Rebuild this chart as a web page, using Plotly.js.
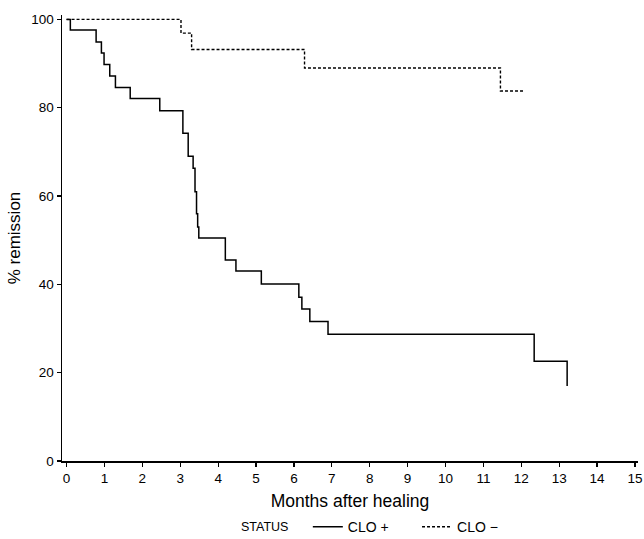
<!DOCTYPE html>
<html><head><meta charset="utf-8">
<script src="https://cdn.plot.ly/plotly-3.0.1.min.js"></script>
<style>body{margin:0;background:#fff}</style>
</head><body><div id="chart" style="width:644px;height:539px"></div>
<script>
// CLO + (solid): time of each drop (months) and remission (%) after it
const cloPlusMonths = [0, 0.10, 0.78, 0.92, 0.99, 1.14, 1.29, 1.68, 2.46, 3.07, 3.21, 3.34, 3.39, 3.43, 3.46, 3.49, 4.19, 4.47, 5.14, 6.13, 6.21, 6.42, 6.90, 12.34, 13.21];
const cloPlusRemission = [100, 97.6, 94.9, 92.4, 89.8, 87.2, 84.6, 82.1, 79.3, 74.2, 69.0, 66.3, 61.0, 56.0, 53.0, 50.5, 45.5, 43.0, 40.1, 37.1, 34.4, 31.6, 28.7, 22.6, 17.0];
// CLO - (dashed)
const cloMinusMonths = [0, 3.02, 3.30, 6.28, 11.45, 12.07];
const cloMinusRemission = [100, 96.9, 93.2, 89.0, 83.8, 83.8];

const xTicks = [0,1,2,3,4,5,6,7,8,9,10,11,12,13,14,15];
const yTicks = [0,20,40,60,80,100];
const seriesNames = ['CLO +', 'CLO \u2212'];
const legendLabel = 'STATUS';

const font = 'Liberation Sans, Arial, sans-serif';
const nb = n => '\u00a0'.repeat(n);
const traces = [
  {x: cloPlusMonths, y: cloPlusRemission, type: 'scatter', mode: 'lines', name: seriesNames[0] + nb(6),
   line: {shape: 'hv', color: '#000', width: 1.5}},
  {x: cloMinusMonths, y: cloMinusRemission, type: 'scatter', mode: 'lines', name: seriesNames[1],
   line: {shape: 'hv', color: '#000', width: 1.4, dash: '3px,2px'}}
];
const layout = {
  width: 644, height: 539,
  margin: {l: 62, r: 6, t: 15, b: 78},
  paper_bgcolor: '#fff', plot_bgcolor: '#fff',
  font: {family: font, color: '#000'},
  showlegend: true,
  legend: {orientation: 'h', xref: 'container', x: 0.478, xanchor: 'left', y: 0.022, yanchor: 'middle', yref: 'container',
    font: {size: 14, family: font}, itemwidth: 30, tracegroupgap: 0},
  annotations: [{text: legendLabel, xref: 'paper', yref: 'paper', x: 0.351, y: -0.148,
    xanchor: 'center', yanchor: 'middle', showarrow: false, font: {size: 12.5, family: font, color: '#000'}}],
  xaxis: {range: [-0.12, 15.08], tickvals: xTicks, ticktext: xTicks.map(String),
    ticks: 'outside', ticklen: 4, tickwidth: 1.2, tickcolor: '#000',
    showline: true, linecolor: '#000', linewidth: 1.5, showgrid: false, zeroline: false,
    tickfont: {size: 13.5, family: font},
    title: {text: 'Months after healing', font: {size: 17.5, family: font}, standoff: 20}},
  yaxis: {range: [0, 101], tickvals: yTicks, ticktext: yTicks.map(String),
    ticks: 'outside', ticklen: 4, tickwidth: 1.2, tickcolor: '#000',
    showline: true, linecolor: '#000', linewidth: 1.5, showgrid: false, zeroline: false,
    tickfont: {size: 13.5, family: font},
    title: {text: '% remission', font: {size: 17, family: font}, standoff: 6}}
};
Plotly.newPlot('chart', traces, layout, {displayModeBar: false, staticPlot: true});
</script></body></html>
